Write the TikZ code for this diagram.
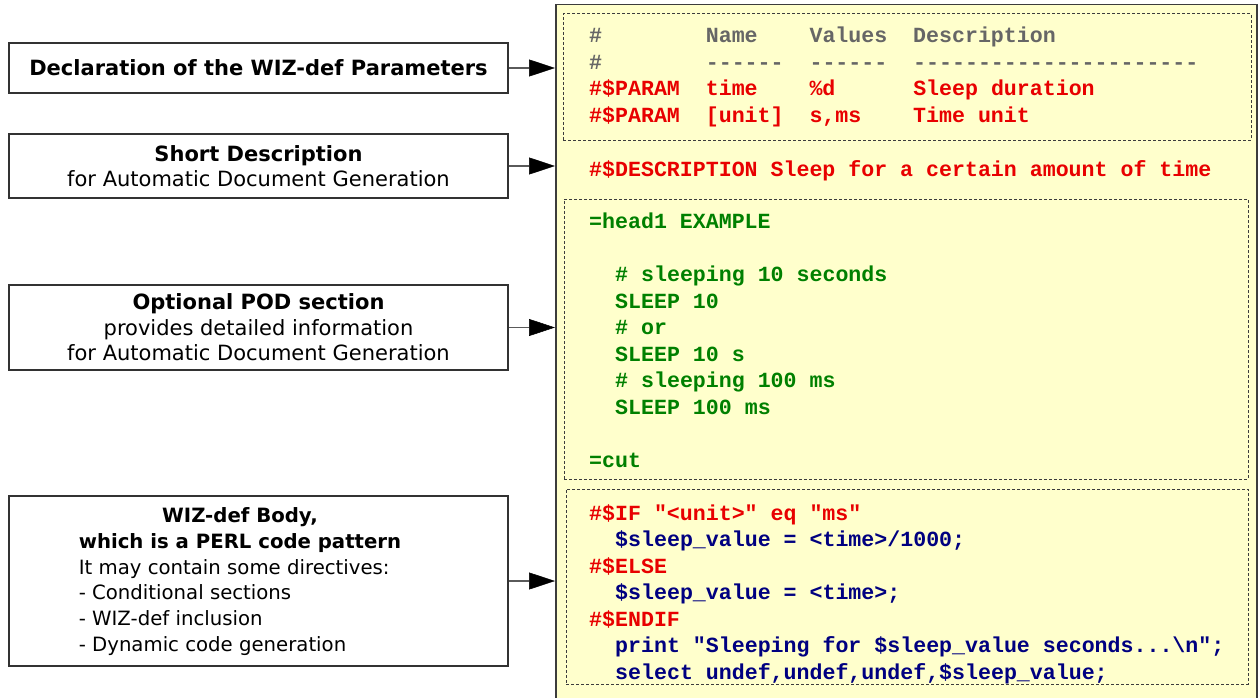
\documentclass[tikz,border=0pt]{standalone}
\usepackage{fontspec}
\setmonofont{Liberation Mono}
\newfontfamily\labelfont{DejaVu Sans}
\usetikzlibrary{arrows.meta}
\definecolor{panelfill}{RGB}{255,255,204}
\definecolor{paneldraw}{RGB}{60,60,60}
\definecolor{codegray}{RGB}{102,102,102}
\definecolor{codered}{RGB}{232,0,0}
\definecolor{codegreen}{RGB}{0,128,0}
\definecolor{codenavy}{RGB}{0,0,128}
\definecolor{boxdraw}{RGB}{50,50,50}
\definecolor{conncol}{RGB}{90,90,90}
\tikzset{
  leftbox/.style={draw=boxdraw, line width=1.2pt, fill=white, inner sep=0pt,
    minimum width=499pt, align=center,
    font=\labelfont\fontsize{21}{25.6}\selectfont},
  labeltext/.style={inner sep=0pt, font=\labelfont\fontsize{19.7}{25.7}\selectfont},
  dotbox/.style={draw=paneldraw, line width=1pt, dash pattern=on 3pt off 2pt, inner sep=0pt},
  code/.style={anchor=base west, inner sep=0pt,
    font=\ttfamily\bfseries\fontsize{21.6}{26.5}\selectfont},
  conn/.style={draw=conncol, line width=1.5pt,
    -{Triangle[length=26pt,width=17pt,color=black,fill=black,line width=0.5pt]}},
}
\begin{document}
\begin{tikzpicture}[x=1pt,y=-1pt]
\useasboundingbox (0,0) rectangle (1260,698);
% code panel
\node[draw=paneldraw, line width=1.5pt, fill=panelfill, inner sep=0pt,
  minimum width=701pt, minimum height=720pt, anchor=north west] (panel) at (555,4) {};
\node[dotbox, minimum width=688pt, minimum height=126pt] (d1) at (907,77) {};
\node[dotbox, minimum width=684pt, minimum height=280pt] (d2) at (906,339) {};
\node[dotbox, minimum width=682pt, minimum height=195pt] (d3) at (907,586.5) {};

% parameter declarations
\node[code, text=codegray] (h1) at (589,43) {\#\ \ \ \ \ \ \ \ Name\ \ \ \ Values\ \ Description};
\node[code, text=codegray] (h2) at (589,69.5) {\#\ \ \ \ \ \ \ \ ------\ \ ------\ \ ----------------------};
\node[code, text=codered] (p1) at (589,96) {\#\$PARAM\ \ time\ \ \ \ \%d\ \ \ \ \ \ Sleep duration};
\node[code, text=codered] (p2) at (589,122.5) {\#\$PARAM\ \ [unit]\ \ s,ms\ \ \ \ Time unit};

% description
\node[code, text=codered] (desc) at (589,176) {\#\$DESCRIPTION Sleep for a certain amount of time};

% POD section
\node[code, text=codegreen] (pod1) at (589,228.7) {=head1 EXAMPLE};
\node[code, text=codegreen] (pod2) at (615,281.7) {\# sleeping 10 seconds};
\node[code, text=codegreen] (pod3) at (615,308.2) {SLEEP 10};
\node[code, text=codegreen] (pod4) at (615,334.7) {\# or};
\node[code, text=codegreen] (pod5) at (615,361.2) {SLEEP 10 s};
\node[code, text=codegreen] (pod6) at (615,387.7) {\# sleeping 100 ms};
\node[code, text=codegreen] (pod7) at (615,414.2) {SLEEP 100 ms};
\node[code, text=codegreen] (pod8) at (589,467.2) {=cut};

% body
\node[code, text=codered] (bd1) at (589,520) {\#\$IF "<unit>" eq "ms"};
\node[code, text=codenavy] (bd2) at (615,546.5) {\$sleep\_value = <time>/1000;};
\node[code, text=codered] (bd3) at (589,573) {\#\$ELSE};
\node[code, text=codenavy] (bd4) at (615,599.5) {\$sleep\_value = <time>;};
\node[code, text=codered] (bd5) at (589,626) {\#\$ENDIF};
\node[code, text=codenavy] (bd6) at (615,652.5) {print "Sleeping for \$sleep\_value seconds...\textbackslash n";};
\node[code, text=codenavy] (bd7) at (615,679) {select undef,undef,undef,\$sleep\_value;};

% left boxes
\node[leftbox, minimum height=50pt] (b1) at (258.5,68) {\bfseries Declaration of the WIZ-def Parameters};
\node[leftbox, minimum height=64pt] (b2) at (258.5,166) {\textbf{Short Description}\\for Automatic Document Generation};
\node[leftbox, minimum height=85pt] (b3) at (258.5,327.5) {\textbf{Optional POD section}\\provides detailed information\\for Automatic Document Generation};
\node[leftbox, minimum height=170pt] (b4) at (258.5,581) {};
\node[labeltext] (t4) at (240,582) {\begin{tabular}{@{}l@{}}
\multicolumn{1}{@{}c@{}}{\bfseries WIZ-def Body,}\\
\multicolumn{1}{@{}c@{}}{\bfseries which is a PERL code pattern}\\
It may contain some directives:\\
- Conditional sections\\
- WIZ-def inclusion\\
- Dynamic code generation
\end{tabular}};

% connectors
\draw[conn] (b1.east) -- (b1.east -| panel.west);
\draw[conn] (b2.east) -- (b2.east -| panel.west);
\draw[conn] (b3.east) -- (b3.east -| panel.west);
\draw[conn] (b4.east) -- (b4.east -| panel.west);
\end{tikzpicture}
\end{document}
